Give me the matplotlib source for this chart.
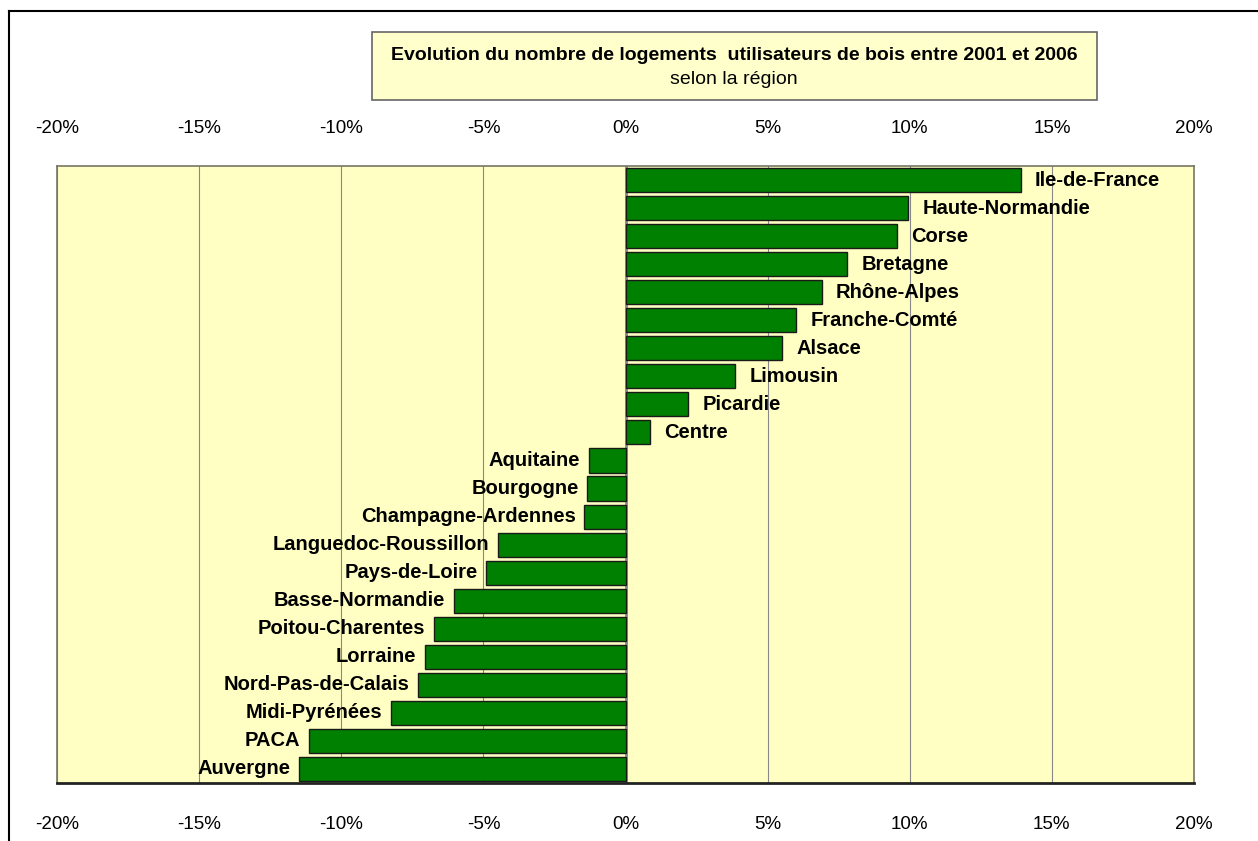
import matplotlib.pyplot as plt
from matplotlib.patches import Rectangle
from matplotlib.lines import Line2D
from matplotlib.ticker import FuncFormatter

# regions from top to bottom, change 2001-2006 in %
regions = ['Ile-de-France', 'Haute-Normandie', 'Corse', 'Bretagne', 'Rhône-Alpes',
           'Franche-Comté', 'Alsace', 'Limousin', 'Picardie', 'Centre',
           'Aquitaine', 'Bourgogne', 'Champagne-Ardennes', 'Languedoc-Roussillon',
           'Pays-de-Loire', 'Basse-Normandie', 'Poitou-Charentes', 'Lorraine',
           'Nord-Pas-de-Calais', 'Midi-Pyrénées', 'PACA', 'Auvergne']
values = [13.9, 9.95, 9.55, 7.8, 6.9, 6.0, 5.5, 3.85, 2.2, 0.85,
          -1.3, -1.35, -1.45, -4.5, -4.9, -6.05, -6.75, -7.05, -7.3, -8.25,
          -11.15, -11.5]
ticks = [-20, -15, -10, -5, 0, 5, 10, 15, 20]

plt.rcParams['font.family'] = ['Liberation Sans', 'DejaVu Sans']

fig = plt.figure(figsize=(12.58, 8.41), dpi=100)
W, H = 1258, 841
ax = fig.add_axes([57 / W, 1 - 783 / H, (1194 - 57) / W, (783 - 166) / H])
ax.set_facecolor('#FFFFC4')

pos = list(range(len(regions)))
ax.barh(pos, values, height=0.86, color='#008000', edgecolor='#1a1a1a', linewidth=1, zorder=3)
ax.set_ylim(len(regions) - 0.5, -0.5)
ax.set_xlim(-20, 20)
ax.set_xticks(ticks)
pct = FuncFormatter(lambda v, p: f'{v:.0f}%')
ax.xaxis.set_major_formatter(pct)
ax.tick_params(axis='x', length=0, labelsize=13.5, pad=24)
ax.set_yticks([])

# top axis labels
top = ax.secondary_xaxis('top')
top.set_xticks(ticks)
top.xaxis.set_major_formatter(pct)
top.tick_params(length=0, labelsize=13.5, pad=21)
top.spines['top'].set_visible(False)

ax.grid(axis='x', color='#888888', linewidth=0.8, zorder=1)
ax.axvline(0, color='#888888', linewidth=2, zorder=2)
for s in ax.spines.values():
    s.set_color('#777766')
    s.set_linewidth(1.2)
ax.spines['bottom'].set_color('#222222')
ax.spines['bottom'].set_linewidth(2)

for i, (name, v) in enumerate(zip(regions, values)):
    if v >= 0:
        ax.text(v + 0.5, i, name, ha='left', va='center', fontsize=14.5,
                fontweight='bold', zorder=4)
    else:
        ax.text(v - 0.3, i, name, ha='right', va='center', fontsize=14.5,
                fontweight='bold', zorder=4)

# title box
fig.patches.append(Rectangle((372 / W, 1 - 100 / H), (1097 - 372) / W, 68 / H,
                             transform=fig.transFigure, facecolor='#FFFFCC',
                             edgecolor='#666666', linewidth=1.2))
fig.text(734 / W, 1 - 56 / H, 'Evolution du nombre de logements  utilisateurs de bois entre 2001 et 2006',
         ha='center', va='center', fontsize=14, fontweight='bold')
fig.text(734 / W, 1 - 79 / H, 'selon la région', ha='center', va='center', fontsize=14)

# outer frame (left and top edges)
fig.lines.append(Line2D([9 / W, 9 / W], [0, 1 - 11 / H], transform=fig.transFigure,
                        color='black', linewidth=1.5))
fig.lines.append(Line2D([9 / W, 1], [1 - 11 / H, 1 - 11 / H], transform=fig.transFigure,
                        color='black', linewidth=1.5))

fig.savefig('out.png', dpi=100, facecolor='white')
